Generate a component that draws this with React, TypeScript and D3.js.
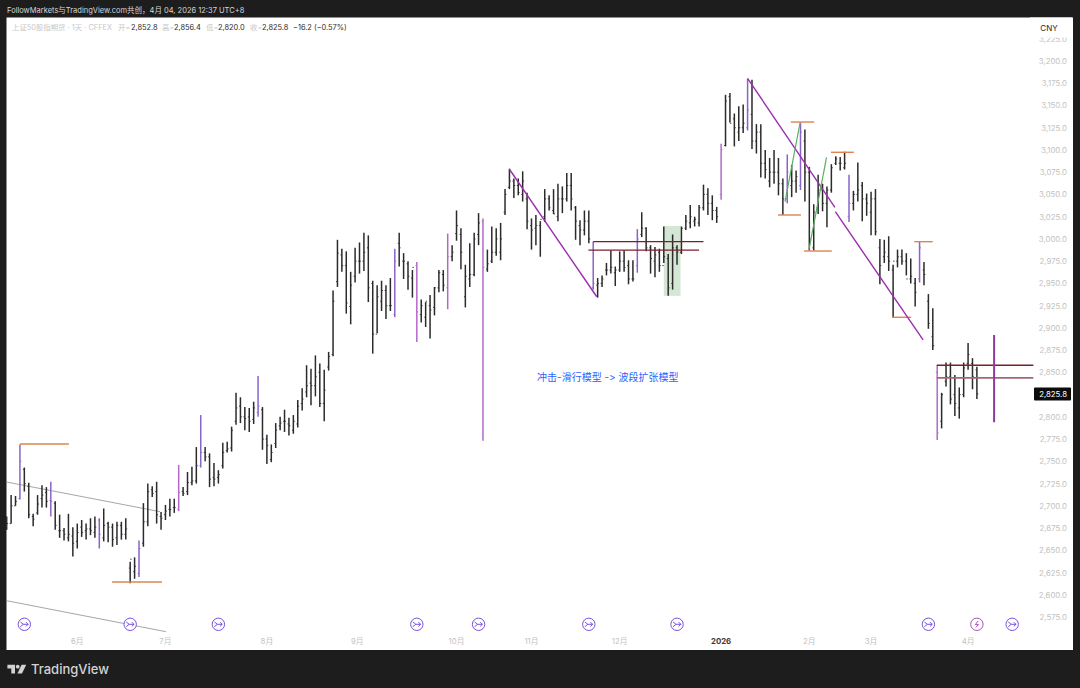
import { useEffect, useRef } from "react";
import * as d3 from "d3";

const highs = [
  2688, 2712, 2711, 2769, 2743, 2726, 2691, 2712, 2723, 2721,
  2727, 2705, 2690, 2675, 2691, 2676, 2680, 2684, 2680, 2686,
  2688, 2686, 2697, 2682, 2680, 2682, 2682, 2686, 2637, 2642,
  2661, 2703, 2725, 2722, 2727, 2693, 2701, 2708, 2708, 2746,
  2721, 2738, 2744, 2766, 2802, 2766, 2759, 2748, 2740, 2771,
  2772, 2789, 2827, 2822, 2811, 2810, 2817, 2846, 2811, 2780,
  2769, 2793, 2800, 2808, 2799, 2802, 2819, 2832, 2858, 2854,
  2869, 2860, 2853, 2873, 2942, 2999, 2989, 2986, 2963, 2990,
  2996, 3007, 3004, 2953, 2948, 2953, 2948, 2956, 2989, 3007,
  2984, 2975, 2965, 2974, 2932, 2929, 2937, 2946, 2965, 2965,
  3006, 2993, 3032, 3012, 2971, 2995, 3007, 3029, 3023, 2988,
  3014, 3012, 3018, 3056, 3079, 3068, 3068, 3076, 3052, 3023,
  3027, 3020, 3056, 3049, 3056, 3062, 3059, 3074, 3074, 3037,
  3021, 3032, 3032, 2997, 2956, 2959, 2973, 2987, 2969, 2986,
  2987, 2976, 2976, 3011, 3030, 3013, 2993, 2991, 2989, 3014,
  2983, 3005, 2993, 3014, 3027, 3038, 3025, 3038, 3061, 3057,
  3049, 3036, 3107, 3162, 3164, 3141, 3149, 3151, 3180, 3179,
  3129, 3129, 3100, 3091, 3100, 3091, 3068, 3095, 3083, 3077,
  3131, 3123, 3081, 3039, 3072, 3062, 3059, 3084, 3093, 3092,
  3098, 3072, 3054, 3086, 3064, 3051, 3053, 3056, 3000, 2999,
  3003, 2971, 2988, 2988, 2984, 2978, 2956, 2997, 2974, 2938,
  2922, 2858, 2827, 2861, 2861, 2847, 2833, 2861, 2883, 2866,
  2856.4,
];

const lows = [
  2673, 2680, 2700, 2707, 2716, 2686, 2677, 2690, 2698, 2698,
  2688, 2673, 2664, 2661, 2660, 2643, 2652, 2665, 2662, 2667,
  2664, 2652, 2660, 2659, 2654, 2656, 2662, 2662, 2613, 2618,
  2620, 2654, 2677, 2710, 2680, 2673, 2684, 2688, 2692, 2694,
  2711, 2712, 2723, 2725, 2743, 2750, 2721, 2722, 2725, 2742,
  2760, 2761, 2791, 2793, 2785, 2783, 2792, 2800, 2763, 2747,
  2749, 2765, 2785, 2783, 2779, 2781, 2788, 2807, 2822, 2813,
  2823, 2811, 2795, 2852, 2868, 2946, 2963, 2916, 2904, 2951,
  2961, 2964, 2929, 2871, 2894, 2919, 2910, 2919, 2912, 2969,
  2955, 2943, 2934, 2884, 2906, 2901, 2888, 2914, 2940, 2941,
  2921, 2975, 2998, 2966, 2923, 2946, 2958, 2993, 2773, 2963,
  2973, 2981, 2976, 3027, 3056, 3046, 3049, 3042, 3011, 2988,
  2993, 2980, 3019, 3032, 3028, 3020, 3029, 3042, 3032, 2999,
  2993, 3004, 2995, 2943, 2934, 2946, 2959, 2961, 2947, 2963,
  2963, 2949, 2952, 2962, 3002, 2986, 2961, 2957, 2963, 2973,
  2936, 2943, 2971, 2983, 3010, 3012, 3014, 3014, 3032, 3027,
  3021, 3018, 3044, 3104, 3131, 3104, 3110, 3119, 3122, 3101,
  3096, 3069, 3068, 3058, 3062, 3049, 3027, 3040, 3047, 3052,
  3055, 3042, 2987, 2987, 3028, 3031, 3013, 3052, 3083, 3077,
  3078, 3019, 3032, 3042, 3020, 3026, 3004, 3004, 2949, 2973,
  2964, 2912, 2968, 2971, 2959, 2950, 2924, 2951, 2948, 2899,
  2875, 2774, 2787, 2834, 2814, 2801, 2798, 2822, 2853, 2831,
  2820,
];

const opens = [
  2684, 2680, 2700, 2708, 2741, 2722, 2688, 2692, 2708, 2715,
  2706, 2703, 2672, 2672, 2664, 2666, 2660, 2676, 2672, 2674,
  2670, 2684, 2664, 2680, 2676, 2664, 2678, 2668, 2630, 2626,
  2624, 2658, 2682, 2718, 2716, 2688, 2690, 2696, 2698, 2696,
  2716, 2716, 2726, 2728, 2745, 2760, 2755, 2732, 2732, 2745,
  2762, 2765, 2795, 2812, 2800, 2800, 2797, 2805, 2808, 2775,
  2752, 2770, 2790, 2795, 2792, 2785, 2792, 2815, 2828, 2838,
  2835, 2850, 2815, 2856, 2870, 2952, 2982, 2970, 2924, 2958,
  2975, 2975, 2990, 2950, 2893, 2930, 2942, 2925, 2915, 2995,
  2975, 2972, 2956, 2970, 2915, 2912, 2925, 2923, 2945, 2960,
  2945, 2980, 3006, 3005, 2935, 2955, 2960, 3005, 3020, 2966,
  2975, 2985, 2985, 3030, 3058, 3065, 3060, 3050, 3045, 3015,
  3012, 3015, 3025, 3045, 3032, 3025, 3045, 3045, 3060, 3035,
  3015, 3010, 3020, 2945, 2948, 2950, 2965, 2965, 2962, 2965,
  2975, 2970, 2955, 2970, 3005, 3012, 2990, 2975, 2985, 2970,
  2978, 2950, 2990, 2985, 3012, 3018, 3020, 3018, 3035, 3050,
  3040, 3032, 3050, 3105, 3160, 3135, 3120, 3125, 3125, 3140,
  3110, 3120, 3085, 3065, 3075, 3075, 3062, 3045, 3060, 3065,
  3060, 3110, 3075, 2990, 3035, 3055, 3040, 3055, 3085, 3085,
  3080, 3025, 3040, 3050, 3060, 3045, 3030, 3045, 2990, 2980,
  2980, 2965, 2975, 2980, 2975, 2955, 2950, 2955, 2965, 2930,
  2890, 2850, 2795, 2840, 2845, 2825, 2810, 2825, 2860, 2860,
  2852.8,
];

const closes = [
  2680, 2700, 2705, 2750, 2725, 2690, 2685, 2702, 2712, 2705,
  2705, 2678, 2672, 2668, 2668, 2658, 2670, 2670, 2674, 2672,
  2676, 2668, 2678, 2676, 2662, 2678, 2668, 2674, 2640, 2632,
  2652, 2682, 2716, 2714, 2690, 2686, 2694, 2696, 2698, 2715,
  2714, 2726, 2728, 2745, 2760, 2755, 2730, 2730, 2735, 2760,
  2764, 2785, 2810, 2800, 2798, 2795, 2810, 2812, 2775, 2768,
  2760, 2785, 2793, 2795, 2790, 2795, 2812, 2820, 2835, 2835,
  2845, 2815, 2830, 2868, 2930, 2984, 2970, 2928, 2948, 2975,
  2975, 2985, 2945, 2893, 2935, 2942, 2925, 2925, 2975, 2990,
  2975, 2958, 2968, 2918, 2925, 2930, 2920, 2945, 2962, 2948,
  2980, 2985, 3015, 2985, 2958, 2960, 3000, 3018, 2968, 2972,
  2985, 3000, 3000, 3050, 3065, 3060, 3052, 3065, 3020, 3010,
  3015, 3022, 3045, 3035, 3028, 3045, 3045, 3060, 3045, 3020,
  3010, 3020, 3000, 2950, 2950, 2955, 2965, 2968, 2965, 2975,
  2968, 2955, 2955, 3000, 3012, 2990, 2978, 2982, 2970, 2980,
  2945, 2990, 2985, 3012, 3020, 3025, 3022, 3035, 3050, 3040,
  3032, 3025, 3100, 3155, 3130, 3125, 3125, 3130, 3145, 3110,
  3120, 3085, 3078, 3075, 3075, 3062, 3045, 3075, 3065, 3070,
  3120, 3075, 3000, 3030, 3055, 3040, 3055, 3080, 3090, 3085,
  3085, 3040, 3050, 3055, 3045, 3040, 3045, 3008, 2970, 2985,
  2975, 2975, 2980, 2975, 2955, 2958, 2940, 2990, 2960, 2905,
  2880, 2782, 2825, 2845, 2820, 2815, 2825, 2855, 2870, 2845,
  2825.8,
];

// bars the original highlights in two purple tones
const violetBars = [3, 10, 21, 30, 44, 57, 88, 133, 143, 168, 177, 180, 191, 207];
const pinkBars = [39, 93, 100, 108, 162, 211];

const priceTicks = d3.range(2575, 3250, 25);
const monthLabels = ["6月", "7月", "8月", "9月", "10月", "11月", "12月", "2026", "2月", "3月", "4月"];
const monthBars = [16, 36, 59, 79.5, 102, 119, 139, 162, 182, 196, 218];
const eventBars = [4, 28, 48, 93, 107, 132, 152, 209, 220, 228];

// [bar from, bar to, price]
const orangeLevels = [
  [3, 14.1, 2769.5],
  [23.9, 35.2, 2614.3],
  [174.9, 180.1, 3026.9],
  [177.8, 183.1, 3131.4],
  [180.8, 187.1, 2986.4],
  [186.9, 192.1, 3097.4],
  [200.8, 205.1, 2911.9],
  [205.8, 210, 2996.9],
];
const darkRedLevels = [
  [133, 158, 2997],
  [131.9, 157, 2987.5],
  [210.9, 232.8, 2858],
];
const fadedRedLevels = [[210.9, 232.8, 2843.7]];

// [bar from, price from, bar to, price to]
const purpleTrends = [
  [114, 3078.3, 133.8, 2935],
  [168, 3180.5, 187.8, 3035.5],
  [187.9, 3030.6, 207.8, 2886.4],
];
const greenTrends = [
  [176.5, 3041.8, 179.9, 3130.6],
  [181.9, 2987.5, 185.9, 3091.7],
];
const greyTrends = [
  [0, 2726.7, 34.8, 2693.4],
  [0, 2593.3, 36.1, 2558.5],
];

export default function App() {
  const ref = useRef<SVGSVGElement>(null);

  useEffect(() => {
    const svg = d3.select(ref.current);
    svg.selectAll("*").remove();

    const width = 1080;
    const height = 688;
    const chart = { left: 6.5, right: 1073, top: 17.5, bottom: 650 };
    const font = "Inter, 'Noto Sans CJK SC', sans-serif";

    const x = d3.scaleLinear().domain([0, 220]).range([6.7, 976.9]);
    const y = d3.scaleLinear().domain([2575, 3200]).range([617, 61]);

    svg.attr("viewBox", `0 0 ${width} ${height}`).style("font-family", font);

    svg.append("rect").attr("width", width).attr("height", height).attr("fill", "#1d1d1e");
    svg
      .append("rect")
      .attr("x", chart.left)
      .attr("y", chart.top)
      .attr("width", chart.right - chart.left)
      .attr("height", chart.bottom - chart.top)
      .attr("fill", "#ffffff");

    // highlighted zone
    svg
      .append("rect")
      .attr("x", x(149))
      .attr("y", y(3014.5))
      .attr("width", x(152.8) - x(149))
      .attr("height", y(2936) - y(3014.5))
      .attr("fill", "#d3e7d4");

    const drawTrends = (rows: number[][], color: string, w: number) =>
      svg
        .append("g")
        .attr("stroke", color)
        .attr("stroke-width", w)
        .selectAll("line")
        .data(rows)
        .join("line")
        .attr("x1", (d) => x(d[0]))
        .attr("y1", (d) => y(d[1]))
        .attr("x2", (d) => x(d[2]))
        .attr("y2", (d) => y(d[3]));

    const drawLevels = (rows: number[][], color: string, w: number) =>
      drawTrends(rows.map((d) => [d[0], d[2], d[1], d[2]]), color, w);

    drawTrends(greyTrends, "#8f8f8f", 0.8);

    // OHLC bars
    const barColor = (i: number) => {
      if (violetBars.includes(i)) return "#8a63c9";
      if (pinkBars.includes(i)) return "#b169c6";
      return "#2b2b2b";
    };
    const bars = svg
      .append("g")
      .attr("fill", "none")
      .selectAll("g")
      .data(d3.range(highs.length))
      .join("g")
      .attr("stroke", (i) => barColor(i));
    bars
      .append("path")
      .attr("stroke-width", 1.5)
      .attr("d", (i) => `M${x(i)},${y(highs[i])}V${y(lows[i])}`);
    bars
      .append("path")
      .attr("stroke-width", 0.9)
      .attr("d", (i) => `M${x(i) - 1.4},${y(opens[i])}H${x(i)}M${x(i)},${y(closes[i])}H${x(i) + 1.4}`);

    drawLevels(orangeLevels, "#dd8450", 1.4);
    drawTrends(purpleTrends, "#9b2fae", 1.4);
    drawTrends(greenTrends, "#5aae61", 1.2);
    drawLevels(darkRedLevels, "#7c1f2d", 1.3);
    drawLevels(fadedRedLevels, "#a3686f", 1.7);
    drawTrends([[223.9, 2892, 223.9, 2793.9]], "#8f3a9f", 2);

    svg
      .append("text")
      .attr("x", x(136.3))
      .attr("y", y(2843.7) + 3.5)
      .attr("text-anchor", "middle")
      .attr("font-size", 10)
      .attr("fill", "#2962ff")
      .style("font-feature-settings", "'calt' 0, 'liga' 0")
      .text("冲击-滑行模型 -> 波段扩张模型");

    // price axis
    const axis = svg
      .append("g")
      .attr("transform", "translate(1067,0)")
      .call(d3.axisLeft(y).tickValues(priceTicks).tickFormat(d3.format(",.1f") as any).tickSize(0).tickPadding(0));
    axis.select(".domain").remove();
    axis
      .selectAll("text")
      .attr("fill", "#c2c2c2")
      .attr("font-size", 7.8)
      .attr("font-family", font);

    svg.append("rect").attr("x", 1030).attr("y", chart.top).attr("width", 42).attr("height", 20).attr("fill", "#ffffff");
    svg
      .append("text")
      .attr("x", 1049)
      .attr("y", 31)
      .attr("text-anchor", "middle")
      .attr("font-size", 8)
      .attr("fill", "#222222")
      .text("CNY");

    const last = closes[closes.length - 1];
    svg.append("rect").attr("x", 1034).attr("y", y(last) - 6.5).attr("width", 37).attr("height", 13).attr("rx", 1).attr("fill", "#0c0c0c");
    svg
      .append("text")
      .attr("x", 1067)
      .attr("y", y(last) + 3)
      .attr("text-anchor", "end")
      .attr("font-size", 7.8)
      .attr("fill", "#ffffff")
      .text(d3.format(",.1f")(last));

    // time axis
    svg
      .append("g")
      .selectAll("text")
      .data(monthLabels)
      .join("text")
      .attr("x", (_, i) => x(monthBars[i]))
      .attr("y", 644)
      .attr("text-anchor", "middle")
      .attr("font-size", 7.8)
      .attr("font-weight", (d) => (d === "2026" ? 700 : 400))
      .attr("fill", (d) => (d === "2026" ? "#3a3a3a" : "#c2c2c2"))
      .text((d) => d);

    // event markers
    const events = svg
      .append("g")
      .selectAll("g")
      .data(eventBars)
      .join("g")
      .attr("transform", (d) => `translate(${x(d)},624.3)`)
      .attr("fill", "none")
      .attr("stroke-width", 0.9)
      .attr("stroke", (d) => (d === 220 ? "#a23db5" : "#6a3fd8"));
    events.append("circle").attr("r", 6.2).attr("fill", "#ffffff");
    events
      .append("path")
      .attr("d", (d) =>
        d === 220
          ? "M1.2,-3.2L-1.6,0.3H1.6L-1.2,3.2"
          : "M-4,-2.4L-1,0L-4,2.4M-1,0H3.8M1.6,-2.2L3.8,0L1.6,2.2"
      );

    // header strip
    svg
      .append("text")
      .attr("x", 7)
      .attr("y", 12.5)
      .attr("font-size", 7.5)
      .attr("fill", "#d6d6d6")
      .text("FollowMarkets与TradingView.com共创，4月 04, 2026 12:37 UTC+8");

    const legend = [
      ["上证50股指期货 · 1天 · CFFEX", 12, "#c8c8c8"],
      ["开=", 118, "#c8c8c8"],
      ["2,852.8", 131, "#2a2a2a"],
      ["高=", 162, "#c8c8c8"],
      ["2,856.4", 174, "#2a2a2a"],
      ["低=", 206, "#c8c8c8"],
      ["2,820.0", 218, "#2a2a2a"],
      ["收=", 250, "#c8c8c8"],
      ["2,825.8", 262, "#2a2a2a"],
      ["−16.2 (−0.57%)", 293, "#2a2a2a"],
    ];
    svg
      .append("g")
      .selectAll("text")
      .data(legend)
      .join("text")
      .attr("x", (d) => d[1] as number)
      .attr("y", 30)
      .attr("font-size", 7.4)
      .attr("fill", (d) => d[2] as string)
      .text((d) => d[0] as string);

    // TradingView mark
    const logo = svg.append("g").attr("transform", "translate(7.4,664.8)").attr("fill", "#d2d2d2");
    logo.append("path").attr("d", "M0,0H7.6V8.6H3.9V3.7H0Z");
    logo.append("circle").attr("cx", 10.3).attr("cy", 1.85).attr("r", 1.85);
    logo.append("path").attr("d", "M18.8,0L14.6,8.6H10L14.2,0Z");
    svg
      .append("text")
      .attr("x", 31)
      .attr("y", 674)
      .attr("font-size", 13)
      .attr("font-weight", 500)
      .attr("fill", "#d2d2d2")
      .text("TradingView");
  }, []);

  return <svg ref={ref} width={1080} height={688} style={{ position: "absolute", left: 0, top: 0, display: "block" }}></svg>;
}
